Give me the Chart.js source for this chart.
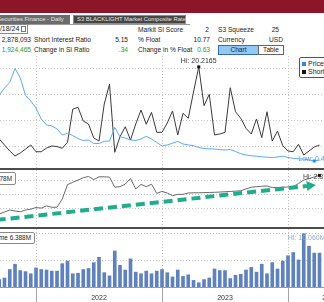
<!DOCTYPE html>
<html>
<head>
<meta charset="utf-8">
<title>Securities Finance - Daily</title>
<script src="https://cdn.jsdelivr.net/npm/chart.js@4.4.1/dist/chart.umd.min.js"></script>
<style>
  html, body { margin: 0; padding: 0; width: 324px; height: 302px; overflow: hidden; background: #fff; }
  body { position: relative; font-family: "Liberation Sans", Arial, sans-serif; font-size: 6.6px; color: #222; }
  .abs { position: absolute; white-space: nowrap; }
  #band { left: 0; top: 0; width: 324px; height: 13px; background: #8b1628; }
  .tab { top: 15px; height: 9px; line-height: 9px; font-size: 5.9px; color: #e6e6e6; box-sizing: border-box; padding-left: 3px; }
  #tabline { left: 0; top: 24px; width: 190px; height: 1px; background: #9a9a9a; }
  .r1 { top: 25px; line-height: 9px; }
  .r2 { top: 35px; line-height: 9px; }
  .r3 { top: 45px; line-height: 9px; }
  .green { color: #1f9a2c; }
  #date { left: -7px; top: 24px; width: 35px; height: 10px; border: 1px solid #8a8a8a; box-sizing: border-box; line-height: 8px; padding-left: 2px; font-size: 7px; }
  #date i { position: absolute; right: 1px; top: 1px; width: 5px; height: 6px; border: 1px solid #777; box-sizing: border-box; }
  .btn { top: 45px; height: 10px; line-height: 8px; text-align: center; box-sizing: border-box; }
  #chartBtn { left: 218px; width: 41px; background: #92c8f3; border: 1px solid #2f6fb0; color: #13294d; }
  #tableBtn { left: 258px; width: 26px; background: #fff; border: 1px solid #666; }
  canvas { position: absolute; left: 0; }
  .sep { left: 0; width: 324px; height: 2px; background: #4c4c4c; }
  .tag { height: 13px; line-height: 11px; padding: 0 3px 0 3px; border: 1px solid #8a8a8a; border-radius: 2px; background: #fff; box-sizing: border-box; color: #222; font-size: 6.4px; }
  #legend { left: 299px; top: 57px; width: 70px; height: 21px; border: 1px solid #555; border-radius: 2px; background: #fff; box-sizing: border-box; font-size: 7px; }
  #legend span { position: absolute; left: 2px; width: 4px; height: 4px; }
  #legend b { position: absolute; left: 8px; font-weight: normal; line-height: 7px; }
</style>
</head>
<body>
<div id="band" class="abs"></div>
<div class="abs tab" style="left:-6px;width:76px;background:#6b6b6b;">Securities Finance - Daily</div>
<div class="abs tab" style="left:73px;width:113px;background:#454545;border:1px solid #8d8d8d;line-height:7px;">S3 BLACKLIGHT Market Composite Rate</div>
<div id="tabline" class="abs"></div>

<div id="date" class="abs">4/18/24<i></i></div>
<div class="abs r1" style="left:138px;">Markit SI Score</div>
<div class="abs r1" style="right:115px;">2</div>
<div class="abs r1" style="left:218px;">S3 Squeeze</div>
<div class="abs r1" style="right:45px;">25</div>

<div class="abs r2" style="right:293px;">2,878,093</div>
<div class="abs r2" style="left:34px;">Short Interest Ratio</div>
<div class="abs r2" style="right:196px;">5.15</div>
<div class="abs r2" style="left:138px;">% Float</div>
<div class="abs r2" style="right:114px;">10.77</div>
<div class="abs r2" style="left:218px;">Currency</div>
<div class="abs r2" style="right:41px;">USD</div>

<div class="abs r3 green" style="right:293px;">1,924,465</div>
<div class="abs r3" style="left:34px;">Change in SI Ratio</div>
<div class="abs r3 green" style="right:196px;">.34</div>
<div class="abs r3" style="left:138px;">Change in % Float</div>
<div class="abs r3 green" style="right:114px;">0.63</div>
<div id="chartBtn" class="abs btn">Chart</div>
<div id="tableBtn" class="abs btn">Table</div>

<canvas id="priceChart" width="372" height="112" style="top:56px"></canvas>
<div class="abs sep" style="top:168px"></div>
<canvas id="siChart" width="372" height="57" style="top:170px"></canvas>
<div class="abs sep" style="top:227px"></div>
<canvas id="volumeChart" width="372" height="73" style="top:229px"></canvas>

<div id="legend" class="abs">
  <span style="top:4px;background:#1a8cff"></span><b style="top:2px">Price</b>
  <span style="top:12px;background:#111"></span><b style="top:10px">Short Interest Ratio</b>
</div>
<div class="abs tag" style="right:308px;top:172px;">Short Interest 2.878M</div>
<div class="abs tag" style="right:289px;top:232px;height:12px;line-height:10px;">Volume 6.388M</div>

<script>
"use strict";

// x is counted in half-month report periods, 0 = last report of 2021
const firstPeriod = -7;
const viewStart = -6.86;
const viewEnd = 64;

const years = ["2022", "2023", "2024"];
const yearStarts = [0, 24, 48];

const priceValues = [
  6.85, 7.51, 8.08, 9.42, 8.5, 6.8, 6.28,
  5.56, 4.52, 3.94, 3.84, 3.55, 2.96, 3.13, 2.91, 2.62, 2.43,
  2.48, 2.14, 2.14, 2.35, 2.38, 3.69, 2.79, 2.67, 2.48, 2.43,
  2.58, 2.84, 2.58, 2.24, 1.9, 2.0, 2.16, 2.35, 2.09, 2.0,
  1.93, 1.75, 1.66, 1.62, 1.6, 1.54, 1.51, 1.56, 1.36, 1.15,
  1.02, 0.95, 0.9, 0.85, 0.81, 0.77, 0.83, 0.91, 0.78, 0.7,
  0.66, 0.63, 0.54, 0.44, 0.54
];

const siRatioValues = [
  6.35, 5.19, 4.04, 3.08, 3.65, 4.42, 5.19,
  3.9, 3.9, 4.6, 5.0, 4.9, 4.56, 5.71, 12.1, 12.44, 9.8,
  9.23, 6.54, 5.96, 13.08, 16.87, 3.79, 6.79, 8.71, 6.15, 9.23,
  11.92, 9.17, 11.48, 7.63, 7.63, 9.42, 11.73, 7.12, 11.29, 10.33,
  15.38, 20.2165, 12.75, 14.94, 7.12, 7.31, 7.63, 16.21, 11.6, 10.33,
  8.4, 7.31, 10.19, 6.6, 11.6, 5.96, 7.88, 5.06, 4.04, 3.9,
  5.33, 3.27, 4.04, 4.81, 5.19
];

// short interest, millions of shares
const shortInterestValues = [
  1.814, 1.866, 1.922, 1.894, 1.874, 1.922, 1.946,
  1.99, 1.974, 2.034, 1.998, 1.998, 2.226, 2.622, 2.686, 2.746, 2.814,
  2.846, 2.762, 2.838, 2.838, 2.83, 2.55, 2.566, 2.638, 2.79, 2.502,
  2.63, 2.566, 2.634, 2.382, 2.434, 2.39, 2.318, 2.354, 2.354, 2.39,
  2.398, 2.398, 2.402, 2.406, 2.41, 2.418, 2.426, 2.434, 2.442, 2.454,
  2.502, 2.55, 2.566, 2.578, 2.586, 2.542, 2.542, 2.55, 2.558, 2.566,
  2.654, 2.75, 2.79, 2.834, 2.878
];

// volume per period, millions
const volumeValues = [
  1.4, 1.7, 3.3, 4.3, 3.1, 2.9, 2.5,
  3.6, 3.3, 3.2, 3.0, 3.0, 4.4, 4.9, 2.5, 2.6, 3.3,
  3.5, 4.6, 5.6, 2.7, 2.1, 6.8, 4.1, 3.2, 5.3, 2.8,
  2.5, 3.0, 2.5, 3.0, 3.3, 2.7, 1.9, 3.2, 2.0, 2.3,
  1.25, 0.8, 1.4, 1.7, 3.4, 3.1, 3.1, 1.6, 2.2, 2.4,
  3.2, 3.7, 2.8, 4.3, 2.5, 4.6, 3.4, 4.9, 5.9, 6.5,
  5.1, 10.06, 7.7, 6.4, 6.388
];

// dashed trend arrow drawn on the short interest panel
const trendFrom = { x: -7.5, y: 1.647 };
const trendTo = { x: 53.3, y: 2.612 };

const GRID = "#c2c2c2";
const FONT = "7px 'Liberation Sans'";

const toPoints = (values) => values.map((y, i) => ({ x: firstPeriod + i, y }));

const yearMids = yearStarts.map((s, k) =>
  k < yearStarts.length - 1 ? (s + yearStarts[k + 1]) / 2 : (s + viewEnd) / 2
);

function xScale(withTickMarks) {
  return {
    type: "linear",
    min: viewStart,
    max: viewEnd,
    offset: false,
    afterBuildTicks: (scale) => {
      scale.ticks = yearStarts.map((value) => ({ value }));
    },
    grid: {
      offset: false,
      color: GRID,
      tickColor: "#a4a4a4",
      drawTicks: withTickMarks,
      tickLength: 15,
      tickBorderDash: [],
    },
    border: { display: withTickMarks, color: "#9a9a9a", dash: [1, 2] },
    ticks: { display: false },
  };
}

function gridScale(position, min, max, lines) {
  return {
    position,
    min,
    max,
    afterBuildTicks: (scale) => {
      scale.ticks = lines.map((value) => ({ value }));
    },
    grid: { color: GRID, drawTicks: false },
    border: { display: false, dash: [1, 2] },
    ticks: { display: false },
  };
}

function baseOptions(scales) {
  return {
    responsive: false,
    animation: false,
    events: [],
    layout: { padding: 0 },
    elements: { point: { radius: 0 }, line: { tension: 0 } },
    plugins: { legend: { display: false }, tooltip: { enabled: false } },
    scales,
  };
}

// year names centred between the year ticks, under the x axis
const yearLabels = {
  id: "yearLabels",
  afterDraw(chart) {
    const { ctx, scales, chartArea } = chart;
    ctx.save();
    ctx.font = FONT;
    ctx.fillStyle = "#333";
    ctx.textAlign = "center";
    ctx.textBaseline = "middle";
    years.forEach((year, k) => {
      ctx.fillText(year, scales.x.getPixelForValue(yearMids[k]), chartArea.bottom + 11);
    });
    ctx.restore();
  },
};

// "Hi:" / "Low:" notes at the extreme of a dataset
function extremes(notes) {
  return {
    id: "extremes",
    afterDatasetsDraw(chart) {
      const ctx = chart.ctx;
      notes.forEach((n) => {
        const values = chart.data.datasets[n.dataset].data.map((p) => p.y);
        const target = n.low ? Math.min(...values) : Math.max(...values);
        const el = chart.getDatasetMeta(n.dataset).data[values.indexOf(target)];
        ctx.save();
        if (n.dot) {
          ctx.fillStyle = n.dot;
          ctx.fillRect(el.x - 1.5, el.y - 1.5, 3, 3);
        }
        ctx.font = FONT;
        ctx.fillStyle = n.color;
        ctx.textAlign = n.align;
        ctx.textBaseline = "middle";
        ctx.fillText((n.low ? "Low: " : "Hi: ") + target.toFixed(n.digits) + (n.unit || ""), el.x + n.dx, el.y + n.dy);
        ctx.restore();
      });
    },
  };
}

function trendArrow(from, to, color) {
  return {
    id: "trendArrow",
    afterDatasetsDraw(chart) {
      const { ctx, scales } = chart;
      const x0 = scales.x.getPixelForValue(from.x);
      const y0 = scales.ySI.getPixelForValue(from.y);
      const x1 = scales.x.getPixelForValue(to.x);
      const y1 = scales.ySI.getPixelForValue(to.y);
      const a = Math.atan2(y1 - y0, x1 - x0);
      const bx = x1 - 9 * Math.cos(a);
      const by = y1 - 9 * Math.sin(a);
      ctx.save();
      ctx.strokeStyle = color;
      ctx.lineWidth = 4;
      ctx.setLineDash([9, 5]);
      ctx.beginPath();
      ctx.moveTo(x0, y0);
      ctx.lineTo(bx, by);
      ctx.stroke();
      ctx.setLineDash([]);
      ctx.fillStyle = color;
      ctx.beginPath();
      ctx.moveTo(x1, y1);
      ctx.lineTo(bx + 5 * Math.sin(a), by - 5 * Math.cos(a));
      ctx.lineTo(bx - 5 * Math.sin(a), by + 5 * Math.cos(a));
      ctx.closePath();
      ctx.fill();
      ctx.restore();
    },
  };
}

new Chart(document.getElementById("priceChart"), {
  type: "line",
  data: {
    datasets: [
      { label: "Price", data: toPoints(priceValues), yAxisID: "yPrice", borderColor: "#5aaaf5", borderWidth: 1 },
      { label: "Short Interest Ratio", data: toPoints(siRatioValues), yAxisID: "yRatio", borderColor: "#3a3a3a", borderWidth: 1 },
    ],
  },
  options: baseOptions({
    x: xScale(false),
    yRatio: gridScale("left", 0.77, 22.31, [5, 10, 15, 20]),
    yPrice: { display: false, position: "right", min: -0.24, max: 10.63 },
  }),
  plugins: [
    extremes([
      { dataset: 1, digits: 4, color: "#333", dot: "#111", align: "center", dx: 0, dy: -6 },
      { dataset: 0, low: true, digits: 4, color: "#4a9ff0", dot: "#2a8cf0", align: "left", dx: -16, dy: -2 },
    ]),
  ],
});

new Chart(document.getElementById("siChart"), {
  type: "line",
  data: {
    datasets: [
      { label: "Short Interest", data: toPoints(shortInterestValues), yAxisID: "ySI", borderColor: "#6a6a6a", borderWidth: 1 },
    ],
  },
  options: baseOptions({
    x: xScale(false),
    ySI: gridScale("left", 1.453, 3.026, [1.95, 2.35, 2.75]),
  }),
  plugins: [
    extremes([{ dataset: 0, digits: 3, unit: "M", color: "#444", dot: "#111", align: "left", dx: -16.5, dy: 2 }]),
    trendArrow(trendFrom, trendTo, "#20ad8c"),
  ],
});

new Chart(document.getElementById("volumeChart"), {
  type: "bar",
  data: {
    datasets: [
      { label: "Volume", data: toPoints(volumeValues), backgroundColor: "#5f82bd", barThickness: 3 },
    ],
  },
  options: baseOptions({
    x: xScale(true),
    y: gridScale("left", 0, 10.94, [5, 10]),
  }),
  plugins: [
    extremes([{ dataset: 0, digits: 3, unit: "M", color: "#8eabd6", align: "left", dx: -16, dy: 4 }]),
    yearLabels,
  ],
});
</script>
</body>
</html>
